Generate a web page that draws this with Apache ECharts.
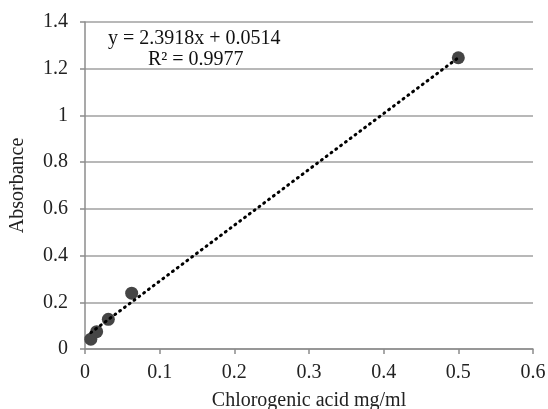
<!DOCTYPE html>
<html><head><meta charset="utf-8">
<script src="https://cdn.jsdelivr.net/npm/echarts@6/dist/echarts.min.js"></script>
<style>html,body{margin:0;padding:0;background:#fff}#c{width:548px;height:409px}</style>
</head><body><div id="c"></div>
<script>
var xValues = [0.0078, 0.0156, 0.03125, 0.0625, 0.5];
var yValues = [0.042, 0.074, 0.127, 0.239, 1.247];
var slope = 2.3918, intercept = 0.0514;
var eqText = 'y = 2.3918x + 0.0514';
var r2Text = 'R\u00b2 = 0.9977';
var xTitle = 'Chlorogenic acid mg/ml';
var yTitle = 'Absorbance';

var points = xValues.map(function(x, i){ return [x, yValues[i]]; });
var x0 = xValues[0], x1 = xValues[xValues.length-1];
var trend = [[x0, slope*x0+intercept], [x1, slope*x1+intercept]];
var font = '"Liberation Serif","Times New Roman",serif';
var chart = echarts.init(document.getElementById('c'));
chart.setOption({
  animation:false,
  textStyle:{fontFamily:font},
  grid:{left:85, right:15, top:22, bottom:60, containLabel:false, outerBoundsMode:'none'},
  xAxis:{type:'value', min:0, max:0.6, interval:0.1,
    name:xTitle, nameLocation:'middle', nameGap:42,
    nameTextStyle:{fontFamily:font, fontSize:20, color:'#222'},
    axisLine:{show:true, lineStyle:{color:'#8c8c8c', width:1.5}},
    axisTick:{show:true, length:5, lineStyle:{color:'#8c8c8c', width:1.5}},
    axisLabel:{fontFamily:font, fontSize:20, color:'#222', margin:14},
    splitLine:{show:false}},
  yAxis:{type:'value', min:0, max:1.4, interval:0.2,
    name:yTitle, nameLocation:'middle', nameGap:57, nameRotate:90,
    nameTextStyle:{fontFamily:font, fontSize:20, color:'#222'},
    axisLine:{show:true, lineStyle:{color:'#8c8c8c', width:1.5}},
    axisTick:{show:true, length:5, lineStyle:{color:'#8c8c8c', width:1.5}},
    axisLabel:{fontFamily:font, fontSize:20, color:'#222', margin:17,
      formatter:function(v){ return String(Math.round(v*10)/10); }},
    splitLine:{show:true, lineStyle:{color:'#a0a0a0', width:1.5}}},
  graphic:[
    {type:'text', left:108, top:29, style:{text:eqText, font:'20px '+font, fill:'#111'}},
    {type:'text', left:148, top:50, style:{text:r2Text, font:'20px '+font, fill:'#111'}}
  ],
  series:[
    {type:'scatter', data:points, symbol:'circle', symbolSize:13,
      itemStyle:{color:'#454545', opacity:1}, z:2},
    {type:'line', data:trend, showSymbol:false, symbol:'none',
      lineStyle:{color:'#000', width:3, type:[1,5], cap:'round'}, z:3}
  ]
});
</script></body></html>
